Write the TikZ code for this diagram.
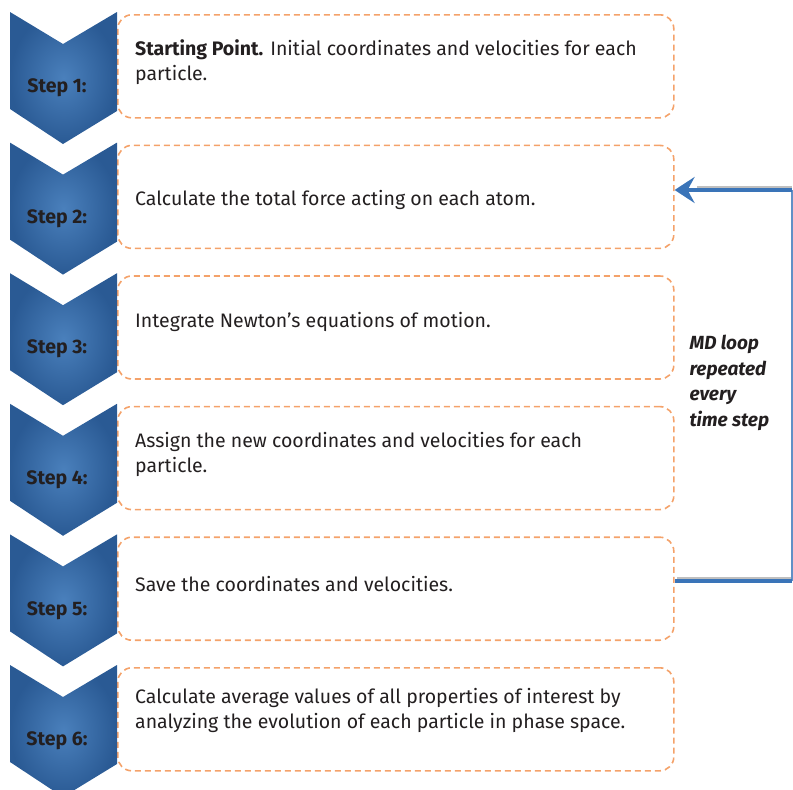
\documentclass[tikz,border=0pt]{standalone}
\usepackage{fontspec}
\setmainfont{Fira Sans}
\usetikzlibrary{arrows.meta,calc}
\definecolor{stepblue}{HTML}{4A80BC}
\definecolor{stepdark}{HTML}{2A5A94}
\definecolor{dashorange}{HTML}{F4A26A}
\definecolor{loopblue}{HTML}{3A74B8}
\definecolor{textdark}{HTML}{231F20}

\begin{document}
\begin{tikzpicture}[x=1pt,y=-1pt,
  stepbox/.style={draw=dashorange, line width=1.6pt, dash pattern=on 6pt off 4pt, rounded corners=14pt},
  chevron/.style={inner color=stepblue, outer color=stepdark},
  steplabel/.style={font=\bfseries\fontsize{19.5}{22}\selectfont, text=textdark},
  steptext/.style={font=\fontsize{19.5}{25}\selectfont, text=textdark, align=left, anchor=west, inner sep=0pt}]
  \useasboundingbox (0,0) rectangle (793,790);

  % Kasten und Pfeile der Schritte
  \foreach \k in {1,...,6} {
    \pgfmathsetmacro{\T}{12+130.6*(\k-1)}
    \node[stepbox, minimum width=556pt, minimum height=103pt, anchor=north west] (box\k) at (117,\T+2) {};
    \shade[chevron] (10,\T) -- (63,\T+32) -- (117,\T) -- (117,\T+99) -- (63,\T+132) -- (10,\T+97) -- cycle;
    \node[steplabel] (step\k) at (57,\T+76) {Step \k:};
  }

  % Texte
  \node[steptext] (text1) at (135,62) {\textbf{Starting Point.} Initial coordinates and velocities for each\\particle.};
  \node[steptext] (text2) at (135,200) {Calculate the total force acting on each atom.};
  \node[steptext] (text3) at (135,322) {Integrate Newton’s equations of motion.};
  \node[steptext] (text4) at (135,454) {Assign the new coordinates and velocities for each\\particle.};
  \node[steptext] (text5) at (135,584) {Save the coordinates and velocities.};
  \node[steptext] (text6) at (135,710) {Calculate average values of all properties of interest by\\analyzing the evolution of each particle in phase space.};

  % MD-Schleife
  \coordinate (looptop) at (792,190);
  \coordinate (loopbot) at (792,581);
  \draw[black!25, line width=3pt] ($(loopbot)+(0,-3)$) -- ($(box5.east |- loopbot)+(2,-3)$);
  \draw[black!25, line width=3pt] ($(looptop)+(0,-3)$) -- ($(box2.east |- looptop)+(22,-3)$);
  \draw[loopblue!80, line width=1.8pt] (looptop) -- (loopbot);
  \draw[loopblue, line width=4pt] (loopbot) -- (box5.east |- loopbot);
  \draw[loopblue, line width=4pt, -{Stealth[length=20pt,width=26pt,inset=7pt]}] (looptop) -- (box2.east |- looptop);
  \node[font=\bfseries\itshape\fontsize{19}{25.5}\selectfont, text=textdark, align=left, anchor=west] (looplabel) at (686,383) {MD loop\\repeated\\every\\time step};
\end{tikzpicture}
\end{document}
